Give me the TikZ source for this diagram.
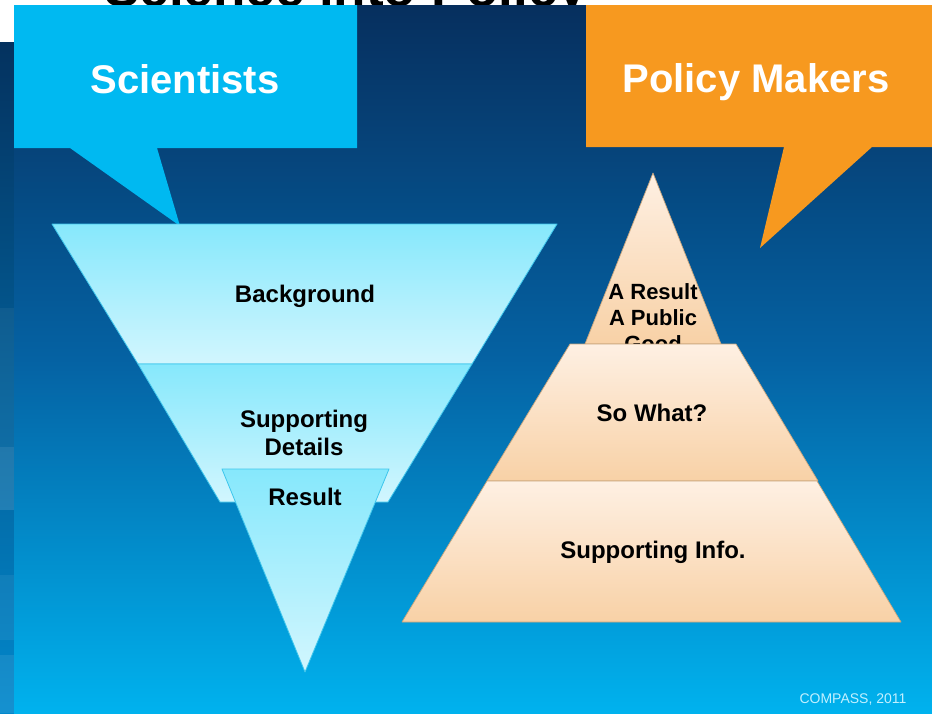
\documentclass[tikz,border=0pt]{standalone}
\usepackage{fontspec}
\setmainfont{Liberation Sans}
\definecolor{bgTop}{HTML}{062F5E}
\definecolor{bgMid}{HTML}{0562A3}
\definecolor{bgBot}{HTML}{00B2EE}
\definecolor{stripTop}{HTML}{04325F}
\definecolor{stripBot}{HTML}{0288CC}
\definecolor{sciBlue}{HTML}{00B9F1}
\definecolor{polOrange}{HTML}{F7991F}
\definecolor{iceTop}{HTML}{86E8FC}
\definecolor{iceBot}{HTML}{D2F6FE}
\definecolor{iceEdge}{HTML}{3EC6EC}
\definecolor{sandTop}{HTML}{FEF0E3}
\definecolor{sandBot}{HTML}{F8D1A6}
\definecolor{sandEdge}{HTML}{C9A57C}
\definecolor{creditText}{HTML}{C2F0FF}
\begin{document}
\begin{tikzpicture}[x=1pt,y=-1pt,
  lbl/.style={font=\fontsize{24}{28}\selectfont\bfseries, text=black, inner sep=0pt, anchor=base},
  smalllbl/.style={font=\fontsize{22}{26}\selectfont\bfseries, text=black, inner sep=0pt, anchor=base},
  calloutlbl/.style={font=\fontsize{40}{46}\selectfont\bfseries, text=white, inner sep=0pt, anchor=base},
  iceband/.style={top color=iceTop, bottom color=iceBot, draw=iceEdge, line width=0.8pt, line join=round},
  sandband/.style={top color=sandTop, bottom color=sandBot, draw=sandEdge, line width=0.7pt, line join=round}]

\useasboundingbox (0,0) rectangle (932,713);
\clip (0,0) rectangle (932,713);
\fill[white] (0,0) rectangle (932,713);

% heading, mostly hidden behind the slide
\node[font=\fontsize{53}{60}\selectfont\bfseries, inner sep=0pt, anchor=base west] (title) at (104,6) {Science into Policy};

% neighbouring slide at the left edge
\shade[top color=stripTop, bottom color=stripBot] (0,42) rectangle (14,713);
\fill[white, opacity=0.05] (0,308) rectangle (14,447);
\fill[white, opacity=0.12] (0,447) rectangle (14,510);
\fill[white, opacity=0.06] (0,575) rectangle (14,640);
\fill[white, opacity=0.08] (0,655) rectangle (14,713);

% slide background
\shade[top color=bgTop, bottom color=bgBot, middle color=bgMid] (14,5) rectangle (932,713);

% speech bubbles
\fill[sciBlue] (14,5) -- (357,5) -- (357,148) -- (157,148) -- (180,226) -- (70,148) -- (14,148) -- cycle;
\node[calloutlbl] (sci) at (185,93) {Scientists};

\fill[polOrange] (586,5) -- (932,5) -- (932,147) -- (872,147) -- (760,248) -- (784,147) -- (586,147) -- cycle;
\node[calloutlbl] (pol) at (756,92) {Policy Makers};

% inverted triangle
\path[iceband] (52,224) -- (557,224) -- (472,364) -- (138,364) -- cycle;
\path[iceband] (138,364) -- (472,364) -- (388,502) -- (220,502) -- cycle;
\node[lbl] (bg) at (305,302) {Background};
\node[lbl] (sd1) at (304,427) {Supporting};
\node[lbl] (sd2) at (304,455) {Details};
\path[iceband] (222,469) -- (389,469) -- (305,672) -- cycle;
\node[lbl] (res) at (305,505) {Result};

% pyramid
\path[sandband] (653,173) -- (721,344) -- (585,344) -- cycle;
\node[smalllbl] (top1) at (653,299) {A Result};
\node[smalllbl] (top2) at (653,325) {A Public};
\node[smalllbl] (top3) at (653,351) {Good};
\path[sandband] (570,344) -- (736,344) -- (818,481) -- (487,481) -- cycle;
\node[lbl] (sowhat) at (652,421) {So What?};
\path[sandband] (487,481) -- (817,481) -- (901,622) -- (402,622) -- cycle;
\node[lbl] (info) at (653,558) {Supporting Info.};

% credit line
\node[font=\fontsize{14}{16}\selectfont, text=creditText, inner sep=0pt, anchor=base] (credit) at (853,703) {COMPASS, 2011};
\end{tikzpicture}
\end{document}
